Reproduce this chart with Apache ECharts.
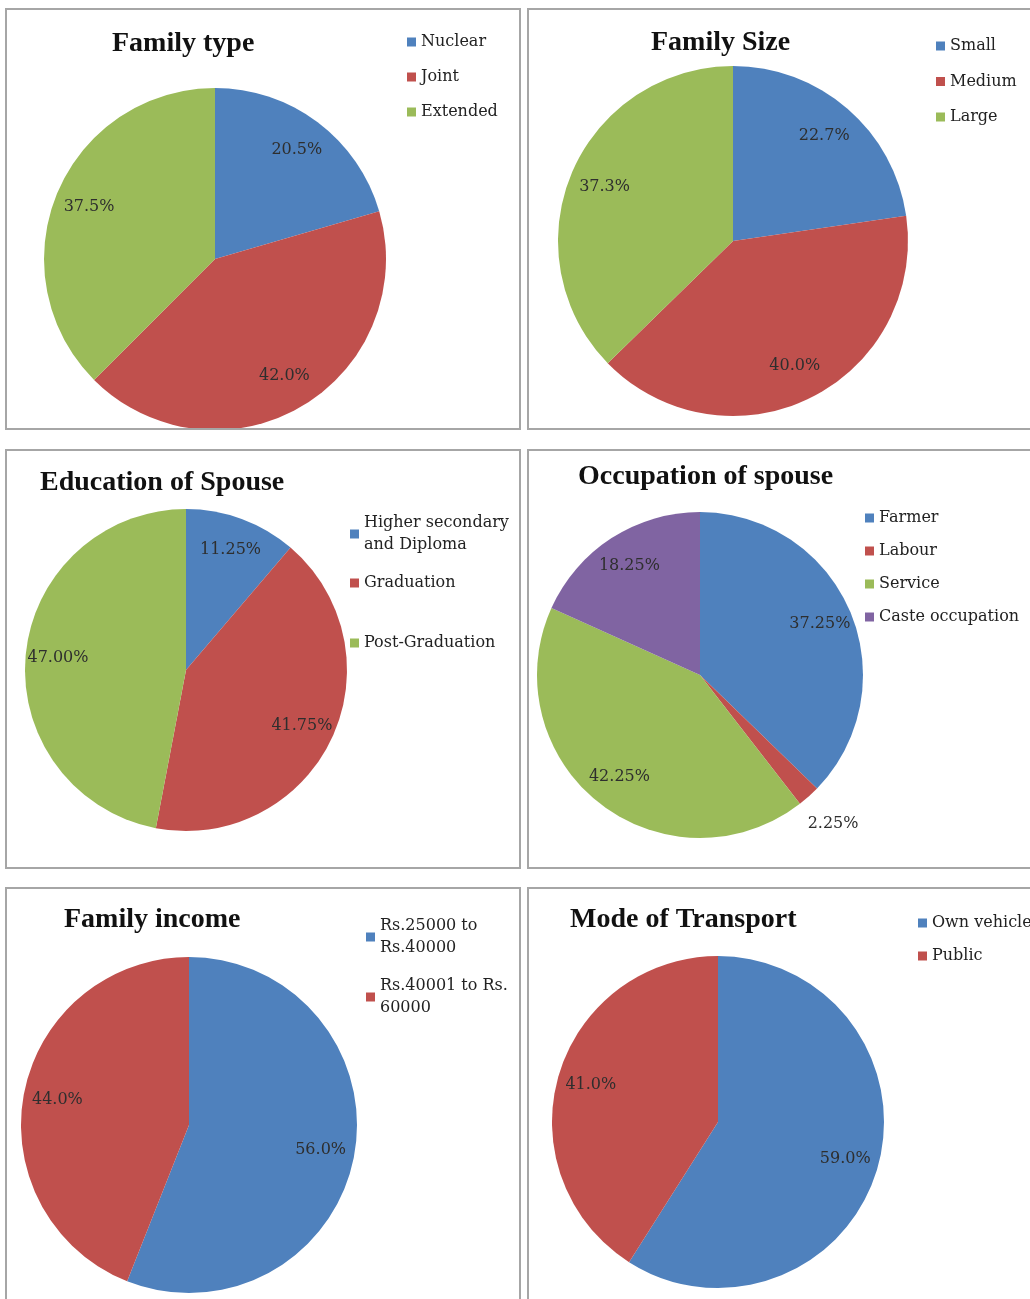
<!DOCTYPE html>
<html>
<head>
<meta charset="utf-8">
<script src="https://cdn.jsdelivr.net/npm/echarts@6/dist/echarts.min.js"></script>
<style>
  html, body { margin: 0; padding: 0; background: #fff; width: 1030px; height: 1299px; overflow: hidden; position: relative; }
  .box { position: absolute; border: 2px solid #a6a6a6; box-sizing: border-box; background: #fff; }
  .box > div { width: 100%; height: 100%; }
</style>
</head>
<body>
<div class="box" style="left:5px;top:8px;width:516px;height:422px"><div id="c1"></div></div>
<div class="box" style="left:527px;top:8px;width:512px;height:422px"><div id="c2"></div></div>
<div class="box" style="left:5px;top:449px;width:516px;height:420px"><div id="c3"></div></div>
<div class="box" style="left:527px;top:449px;width:512px;height:420px"><div id="c4"></div></div>
<div class="box" style="left:5px;top:887px;width:516px;height:430px"><div id="c5"></div></div>
<div class="box" style="left:527px;top:887px;width:512px;height:430px"><div id="c6"></div></div>

<script>
const familyTypeNames = ['Nuclear', 'Joint', 'Extended'];
const familyTypeValues = [20.5, 42.0, 37.5];

const familySizeNames = ['Small', 'Medium', 'Large'];
const familySizeValues = [22.7, 40.0, 37.3];

const educationNames = ['Higher secondary and Diploma', 'Graduation', 'Post-Graduation'];
const educationValues = [11.25, 41.75, 47.00];

const occupationNames = ['Farmer', 'Labour', 'Service', 'Caste occupation'];
const occupationValues = [37.25, 2.25, 42.25, 18.25];

const incomeNames = ['Rs.25000 to Rs.40000', 'Rs.40001 to Rs. 60000'];
const incomeValues = [56.0, 44.0];

const transportNames = ['Own vehicle', 'Public'];
const transportValues = [59.0, 41.0];

const colors = ['#4f81bd', '#c0504d', '#9bbb59', '#8064a2'];

// legend line breaks, as in the original
const wrapped = {
    'Higher secondary and Diploma': 'Higher secondary\nand Diploma',
    'Rs.25000 to Rs.40000': 'Rs.25000 to\nRs.40000',
    'Rs.40001 to Rs. 60000': 'Rs.40001 to Rs.\n60000'
};

function makePie(id, cfg) {
    const chart = echarts.init(document.getElementById(id));
    const cx = cfg.center[0], cy = cfg.center[1];

    const legends = cfg.legends.map(function (lg) {
        return {
            data: lg.data,
            orient: 'vertical',
            left: lg.left,
            top: lg.top,
            padding: 0,
            itemGap: lg.gap,
            icon: 'rect',
            itemWidth: 9,
            itemHeight: 9,
            selectedMode: false,
            formatter: function (name) {
                return wrapped[name] || name;
            },
            textStyle: {
                fontFamily: 'DejaVu Serif',
                fontSize: 16,
                lineHeight: 22,
                color: '#222'
            }
        };
    });

    const option = {
        animation: false,
        title: {
            text: cfg.title,
            left: cfg.titleLeft,
            top: cfg.titleTop,
            padding: 0,
            textStyle: {
                fontFamily: 'Liberation Serif',
                fontWeight: 'bold',
                fontSize: 28,
                lineHeight: 32,
                color: '#111'
            }
        },
        legend: legends,
        series: [
            {
                type: 'pie',
                center: [cx, cy],
                radius: [0, cfg.radius],
                startAngle: 90,
                clockwise: true,
                silent: true,
                itemStyle: { borderWidth: 0 },
                emphasis: { scale: false },
                label: {
                    show: true,
                    position: 'inside',
                    fontFamily: 'DejaVu Serif',
                    fontSize: 16,
                    color: '#2e2e2e',
                    formatter: function (p) {
                        return p.value.toFixed(cfg.decimals) + '%';
                    }
                },
                labelLine: { show: false },
                // Excel puts the labels further out than the middle of the radius
                labelLayout: function (p) {
                    const lx = p.labelRect.x + p.labelRect.width / 2;
                    const ly = p.labelRect.y + p.labelRect.height / 2;
                    const k = cfg.values[p.dataIndex] < 5 ? 2.36 : 1.54;
                    return { x: cx + (lx - cx) * k, y: cy + (ly - cy) * k };
                },
                data: cfg.names.map(function (n, i) {
                    return { name: n, value: cfg.values[i], itemStyle: { color: colors[i] } };
                })
            }
        ]
    };

    chart.setOption(option);
    window.addEventListener('resize', function () {
        chart.resize();
    });
}

makePie('c1', {
    title: 'Family type', titleLeft: 105, titleTop: 18,
    names: familyTypeNames, values: familyTypeValues, decimals: 1,
    center: [208, 249], radius: 171,
    legends: [{ data: familyTypeNames, left: 400, top: 21, gap: 13 }]
});

makePie('c2', {
    title: 'Family Size', titleLeft: 122, titleTop: 17,
    names: familySizeNames, values: familySizeValues, decimals: 1,
    center: [204, 231], radius: 175,
    legends: [{ data: familySizeNames, left: 407, top: 25, gap: 13.5 }]
});

makePie('c3', {
    title: 'Education of Spouse', titleLeft: 33, titleTop: 16,
    names: educationNames, values: educationValues, decimals: 2,
    center: [179, 219], radius: 161,
    legends: [
        { data: educationNames.slice(0, 2), left: 343, top: 61, gap: 16 },
        { data: educationNames.slice(2), left: 343, top: 181, gap: 10 }
    ]
});

makePie('c4', {
    title: 'Occupation of spouse', titleLeft: 49, titleTop: 10,
    names: occupationNames, values: occupationValues, decimals: 2,
    center: [171, 224], radius: 163,
    legends: [{ data: occupationNames, left: 336, top: 56, gap: 11 }]
});

makePie('c5', {
    title: 'Family income', titleLeft: 57, titleTop: 15,
    names: incomeNames, values: incomeValues, decimals: 1,
    center: [182, 236], radius: 168,
    legends: [{ data: incomeNames, left: 359, top: 26, gap: 16 }]
});

makePie('c6', {
    title: 'Mode of Transport', titleLeft: 41, titleTop: 15,
    names: transportNames, values: transportValues, decimals: 1,
    center: [189, 233], radius: 166,
    legends: [{ data: transportNames, left: 389, top: 23, gap: 11 }]
});
</script>
</body>
</html>
